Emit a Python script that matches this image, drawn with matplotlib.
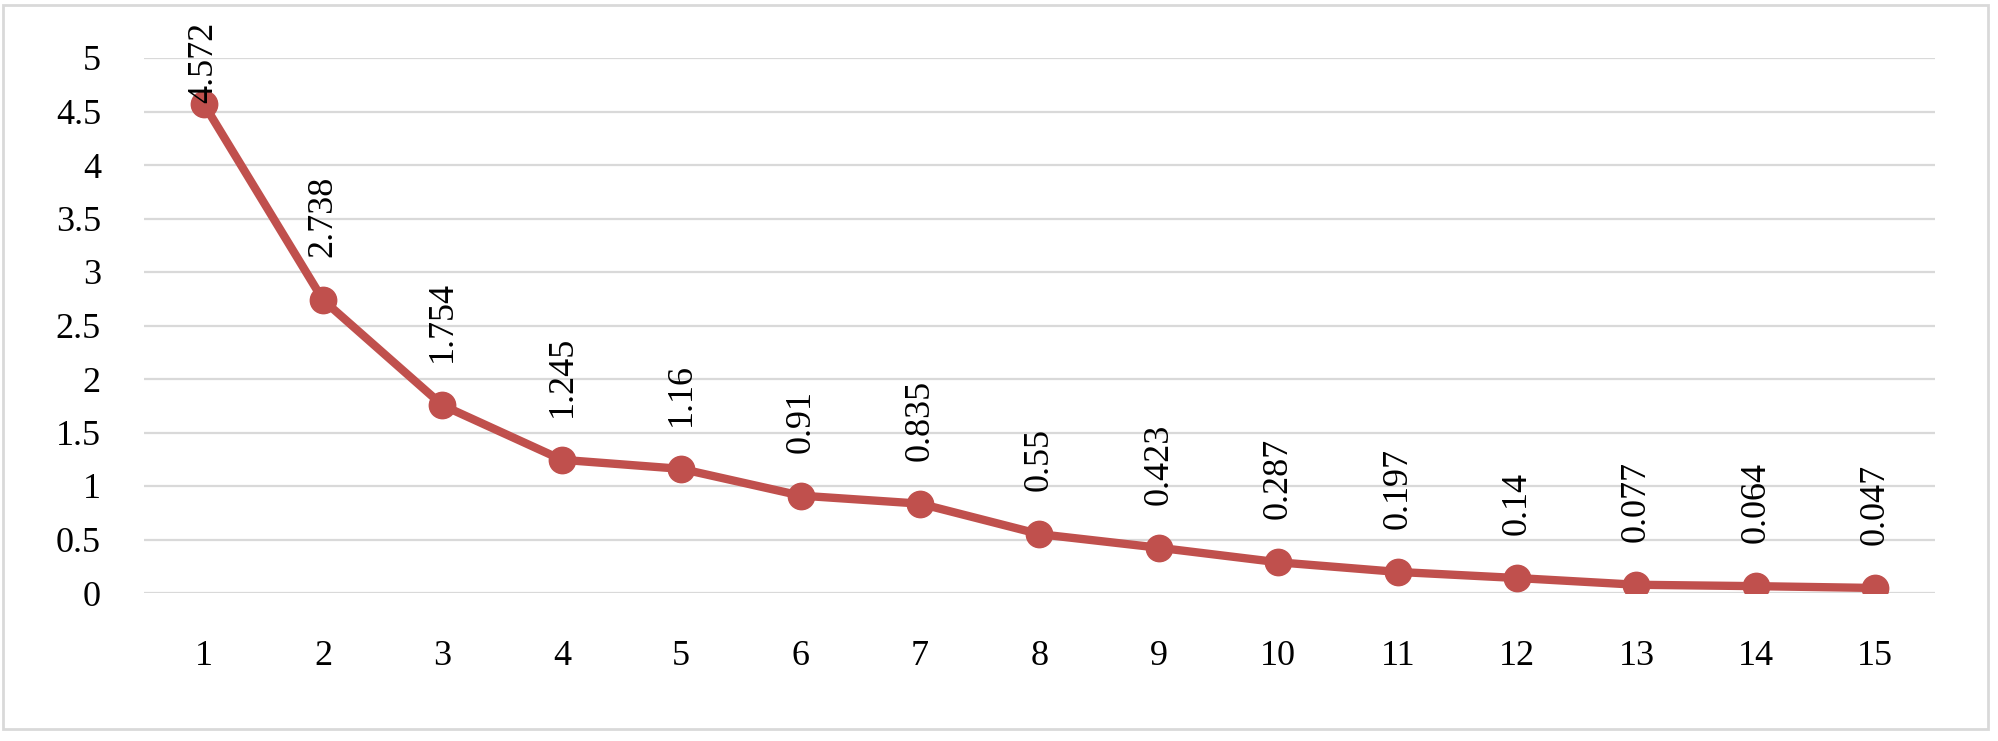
import matplotlib.pyplot as plt
from matplotlib.patches import Rectangle

# Valeurs
categories = list(range(1, 16))
values = [4.572, 2.738, 1.754, 1.245, 1.16, 0.91, 0.835, 0.55,
          0.423, 0.287, 0.197, 0.14, 0.077, 0.064, 0.047]
labels = ["4.572", "2.738", "1.754", "1.245", "1.16", "0.91", "0.835", "0.55",
          "0.423", "0.287", "0.197", "0.14", "0.077", "0.064", "0.047"]
yticks = [0, 0.5, 1, 1.5, 2, 2.5, 3, 3.5, 4, 4.5, 5]
ytick_labels = ["0", "0.5", "1", "1.5", "2", "2.5", "3", "3.5", "4", "4.5", "5"]

plt.rcParams['font.family'] = ['Liberation Serif', 'DejaVu Serif']

W, H, DPI = 1999, 741, 100
fig = plt.figure(figsize=(W / DPI, H / DPI), dpi=DPI)
ax = fig.add_axes([144 / W, (H - 593) / H, (1935 - 144) / W, (593 - 58) / H])

red = '#C0504D'
ax.plot(categories, values, color=red, lw=6, marker='o', markersize=19,
        solid_capstyle='round', zorder=3)

ax.set_xlim(0.5, 15.5)
ax.set_ylim(0, 5)
ax.set_yticks(yticks)
ax.set_yticklabels(ytick_labels)
ax.set_xticks(categories)
ax.set_xticklabels([str(c) for c in categories])
ax.tick_params(axis='y', length=0, pad=31, labelsize=26)
ax.tick_params(axis='x', length=0, pad=34, labelsize=26)
ax.grid(axis='y', color='#d9d9d9', lw=1.6, zorder=0)
ax.set_axisbelow(True)
for s in ax.spines.values():
    s.set_visible(False)

# Etiquettes de données verticales au-dessus des points
texts = []
for x, v, lab in zip(categories, values, labels):
    t = ax.annotate(lab, (x, v), xytext=(0, 31), textcoords='offset points',
                    rotation=90, ha='center', va='bottom', fontsize=26)
    texts.append(t)

# Garder les étiquettes dans la zone du graphique (comme Excel)
fig.canvas.draw()
top_limit = H - 22
for t in texts:
    bb = t.get_window_extent()
    if bb.y1 > top_limit:
        dx, dy = t.xyann
        t.xyann = (dx, dy - (bb.y1 - top_limit) * 72 / DPI)

# Cadre du graphique
fig.patches.append(Rectangle((3 / W, (H - 729) / H), (1988 - 3) / W, (729 - 5) / H,
                             transform=fig.transFigure, fill=False,
                             edgecolor='#d9d9d9', lw=2))

fig.savefig('out.png', dpi=DPI)
